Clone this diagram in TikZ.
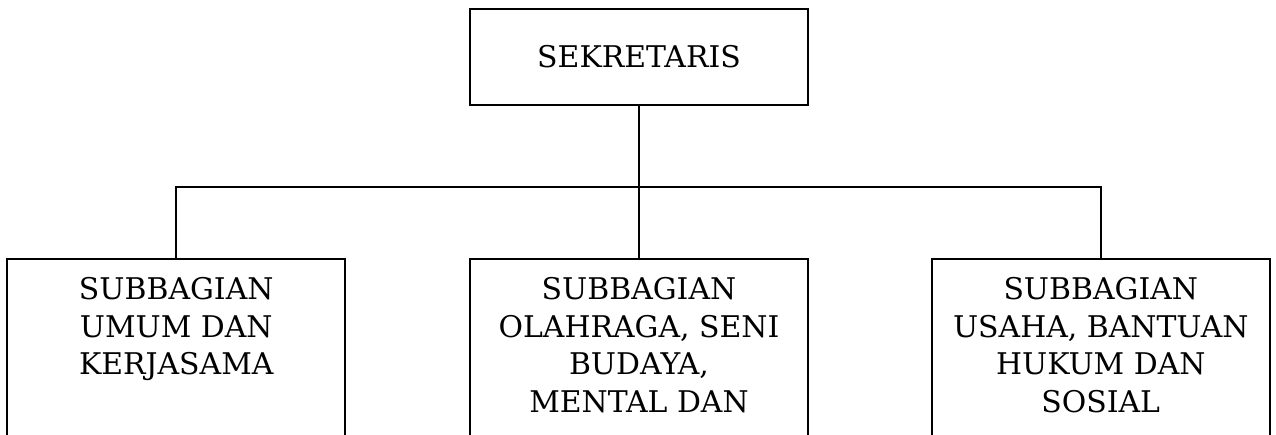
\documentclass[tikz,border=0pt]{standalone}
\usepackage{fontspec}
\setmainfont{DejaVu Serif}
\usetikzlibrary{positioning}
\tikzset{
node distance=2.46cm, % gap between the boxes of one row
unit/.style={draw, line width=1pt, rectangle, minimum width=6.76cm, inner sep=0pt}, % every box
kepala/.style={unit, minimum height=1.92cm, font=\fontsize{17}{21.3}\selectfont},
subbag/.style={unit, minimum height=4.4cm}, % runs off the bottom of the page
teks/.style={align=center, inner sep=0pt, anchor=north, yshift=-0.38cm, font=\fontsize{17}{21.3}\selectfont},
}

\begin{document}
\begin{tikzpicture}[line width=1pt]
   \useasboundingbox (-12.78,1.14) rectangle (12.74,-7.54);
   \clip (-12.78,1.14) rectangle (12.74,-7.54);
   \node[kepala] (sek) {SEKRETARIS};
   \node[subbag] (olahraga) [below=3.04cm of sek] {};
   \node[subbag] (umum) [left=of olahraga] {};
   \node[subbag] (usaha) [right=2.44cm of olahraga] {};
   \node[teks] (t_umum) at (umum.north) {SUBBAGIAN\\UMUM DAN\\KERJASAMA};
   \node[teks] (t_olahraga) at (olahraga.north) {SUBBAGIAN\\OLAHRAGA, SENI\\BUDAYA,\\MENTAL DAN};
   \node[teks] (t_usaha) at (usaha.north) {SUBBAGIAN\\USAHA, BANTUAN\\HUKUM DAN\\SOSIAL};
   \draw (sek.south) -- (olahraga.north);
   \draw (umum.north) -- ++(0,1.42) -| (usaha.north);
\end{tikzpicture}
\end{document}
